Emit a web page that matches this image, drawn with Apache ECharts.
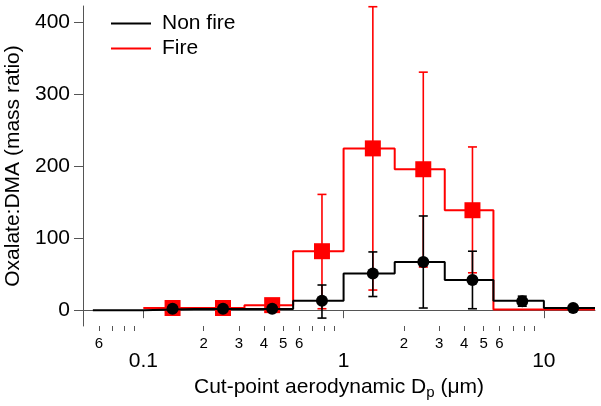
<!DOCTYPE html>
<html>
<head>
<meta charset="utf-8">
<script src="https://cdn.jsdelivr.net/npm/echarts@6/dist/echarts.min.js"></script>
<style>html,body{margin:0;padding:0;background:#fff;}#c{width:601px;height:406px;}</style>
</head>
<body>
<div id="c"></div>
<script>
// Stage cut-point edges (µm) and step values
const edges = [0.056, 0.1, 0.18, 0.32, 0.56, 1.0, 1.8, 3.2, 5.6, 10, 18];
const nonFireStep = [0, 1.5, 1.5, 1.5, 13, 51, 67, 42, 13, 3];
const fireEdges = [0.1, 0.18, 0.32, 0.56, 1.0, 1.8, 3.2, 5.6, 10, 18];
const fireStep = [3, 3, 7, 82, 225, 196, 139, 1, 1];

// Marker positions and values
const nonFireX = [0.14, 0.25, 0.44, 0.78, 1.4, 2.5, 4.4, 7.8, 14];
const nonFireMean = [2, 2, 2, 13, 51, 67, 42, 12.5, 3];
const nonFireLow = [null, null, null, -11, 19, 3, 2, 5.5, null];
const nonFireHigh = [null, null, null, 35, 81, 131, 82, 19.5, null];

const fireX = [0.14, 0.25, 0.44, 0.78, 1.4, 2.5, 4.4];
const fireMean = [3, 3, 7, 82, 225, 196, 139];
const fireLow = [null, null, null, 2, 28, 60, 52];
const fireHigh = [null, null, null, 161, 422, 331, 227];

// Tick values
const yTicks = [0, 100, 200, 300, 400];
const xMajorTicks = [0.1, 1, 10];
const xMinorTicks = [0.06, 0.07, 0.08, 0.09, 0.2, 0.3, 0.4, 0.5, 0.6, 0.7, 0.8, 0.9, 2, 3, 4, 5, 6, 7, 8, 9];
const xMinorLabels = [0.06, 0.2, 0.3, 0.4, 0.5, 0.6, 2, 3, 4, 5, 6];

const FONT = "'Liberation Sans', Arial, sans-serif";

function stepData(ed, vals) {
  const d = [];
  for (let i = 0; i < vals.length; i++) d.push([ed[i], vals[i]]);
  d.push([ed[vals.length], vals[vals.length - 1]]);
  return d;
}
function errData(xs, lo, hi) {
  const d = [];
  for (let i = 0; i < xs.length; i++) if (lo[i] != null && hi[i] != null) d.push([xs[i], lo[i], hi[i]]);
  return d;
}
function errRender(color) {
  return function (params, api) {
    const x = api.value(0);
    const p1 = api.coord([x, api.value(1)]);
    const p2 = api.coord([x, api.value(2)]);
    const w = 4.5;
    const st = { stroke: color, lineWidth: 1.6 };
    return {
      type: 'group',
      children: [
        { type: 'line', shape: { x1: p1[0], y1: p1[1], x2: p2[0], y2: p2[1] }, style: st },
        { type: 'line', shape: { x1: p1[0] - w, y1: p1[1], x2: p1[0] + w, y2: p1[1] }, style: st },
        { type: 'line', shape: { x1: p2[0] - w, y1: p2[1], x2: p2[0] + w, y2: p2[1] }, style: st }
      ]
    };
  };
}
function leadDigit(v) {
  const p = Math.pow(10, Math.floor(Math.log10(v) + 1e-9));
  return String(Math.round(v / p));
}

const chart = echarts.init(document.getElementById('c'), null, { renderer: 'canvas' });
const xBase = { type: 'log', logBase: 10, min: 0.05, max: 18, gridIndex: 0, position: 'bottom', splitLine: { show: false }, minorTick: { show: false } };

chart.setOption({
  animation: false,
  textStyle: { fontFamily: FONT },
  grid: { left: 83, right: 6, top: 6, bottom: 80, outerBoundsMode: 'none' },
  legend: {
    orient: 'vertical', left: 111, top: 11, padding: 0, itemGap: 0,
    itemWidth: 40, itemHeight: 2,
    textStyle: { fontSize: 21, color: '#000', fontFamily: FONT, lineHeight: 25, padding: [0, 0, 0, 6] },
    data: [{ name: 'Non fire', icon: 'rect' }, { name: 'Fire', icon: 'rect' }]
  },
  xAxis: [
    Object.assign({}, xBase, {
      axisLine: { show: true, lineStyle: { color: '#555', width: 1 } },
      axisTick: { show: true, length: 8, lineStyle: { color: '#555' }, customValues: xMajorTicks },
      axisLabel: { show: true, fontSize: 21, color: '#000', margin: 25, customValues: xMajorTicks, formatter: v => String(+v.toPrecision(3)) },
      name: 'Cut-point aerodynamic D{sub|p} (μm)',
      nameLocation: 'middle', nameGap: 47,
      nameTextStyle: { fontSize: 21, color: '#000', fontFamily: FONT, rich: { sub: { fontSize: 15, padding: [10, 0, 0, 0], fontFamily: FONT, color: '#000' } } }
    }),
    Object.assign({}, xBase, {
      axisLine: { show: false },
      axisTick: { show: true, length: 5, lineStyle: { color: '#555' }, customValues: xMinorTicks },
      axisLabel: { show: true, fontSize: 15, color: '#000', margin: 10, customValues: xMinorLabels, formatter: v => leadDigit(v) }
    })
  ],
  yAxis: {
    type: 'value', min: -22, max: 423,
    axisLine: { show: true, lineStyle: { color: '#555', width: 1 } },
    axisTick: { show: true, length: 9, lineStyle: { color: '#555' }, customValues: yTicks },
    axisLabel: { show: true, fontSize: 21, color: '#000', margin: 13, customValues: yTicks },
    splitLine: { show: false },
    name: 'Oxalate:DMA (mass ratio)', nameLocation: 'middle', nameGap: 53,
    nameTextStyle: { fontSize: 21, color: '#000', fontFamily: FONT }
  },
  series: [
    { name: 'Fire', type: 'line', step: 'end', data: stepData(fireEdges, fireStep), symbol: 'none', showSymbol: false, lineStyle: { color: '#ff0000', width: 2 }, itemStyle: { color: '#ff0000' }, z: 2 },
    { name: 'Fire err', type: 'custom', data: errData(fireX, fireLow, fireHigh), renderItem: errRender('#ff0000'), encode: { x: 0, y: [1, 2] }, z: 3 },
    { name: 'Fire pts', type: 'scatter', data: fireX.map((x, i) => [x, fireMean[i]]), symbol: 'rect', symbolSize: 16, itemStyle: { color: '#ff0000', opacity: 1 }, z: 4 },
    { name: 'Non fire', type: 'line', step: 'end', data: stepData(edges, nonFireStep), symbol: 'none', showSymbol: false, lineStyle: { color: '#000', width: 2 }, itemStyle: { color: '#000' }, z: 5 },
    { name: 'Non fire err', type: 'custom', data: errData(nonFireX, nonFireLow, nonFireHigh), renderItem: errRender('#000'), encode: { x: 0, y: [1, 2] }, z: 6 },
    { name: 'Non fire pts', type: 'scatter', data: nonFireX.map((x, i) => [x, nonFireMean[i]]), symbol: 'circle', symbolSize: 12, itemStyle: { color: '#000', opacity: 1 }, z: 7 }
  ]
});
</script>
</body>
</html>
